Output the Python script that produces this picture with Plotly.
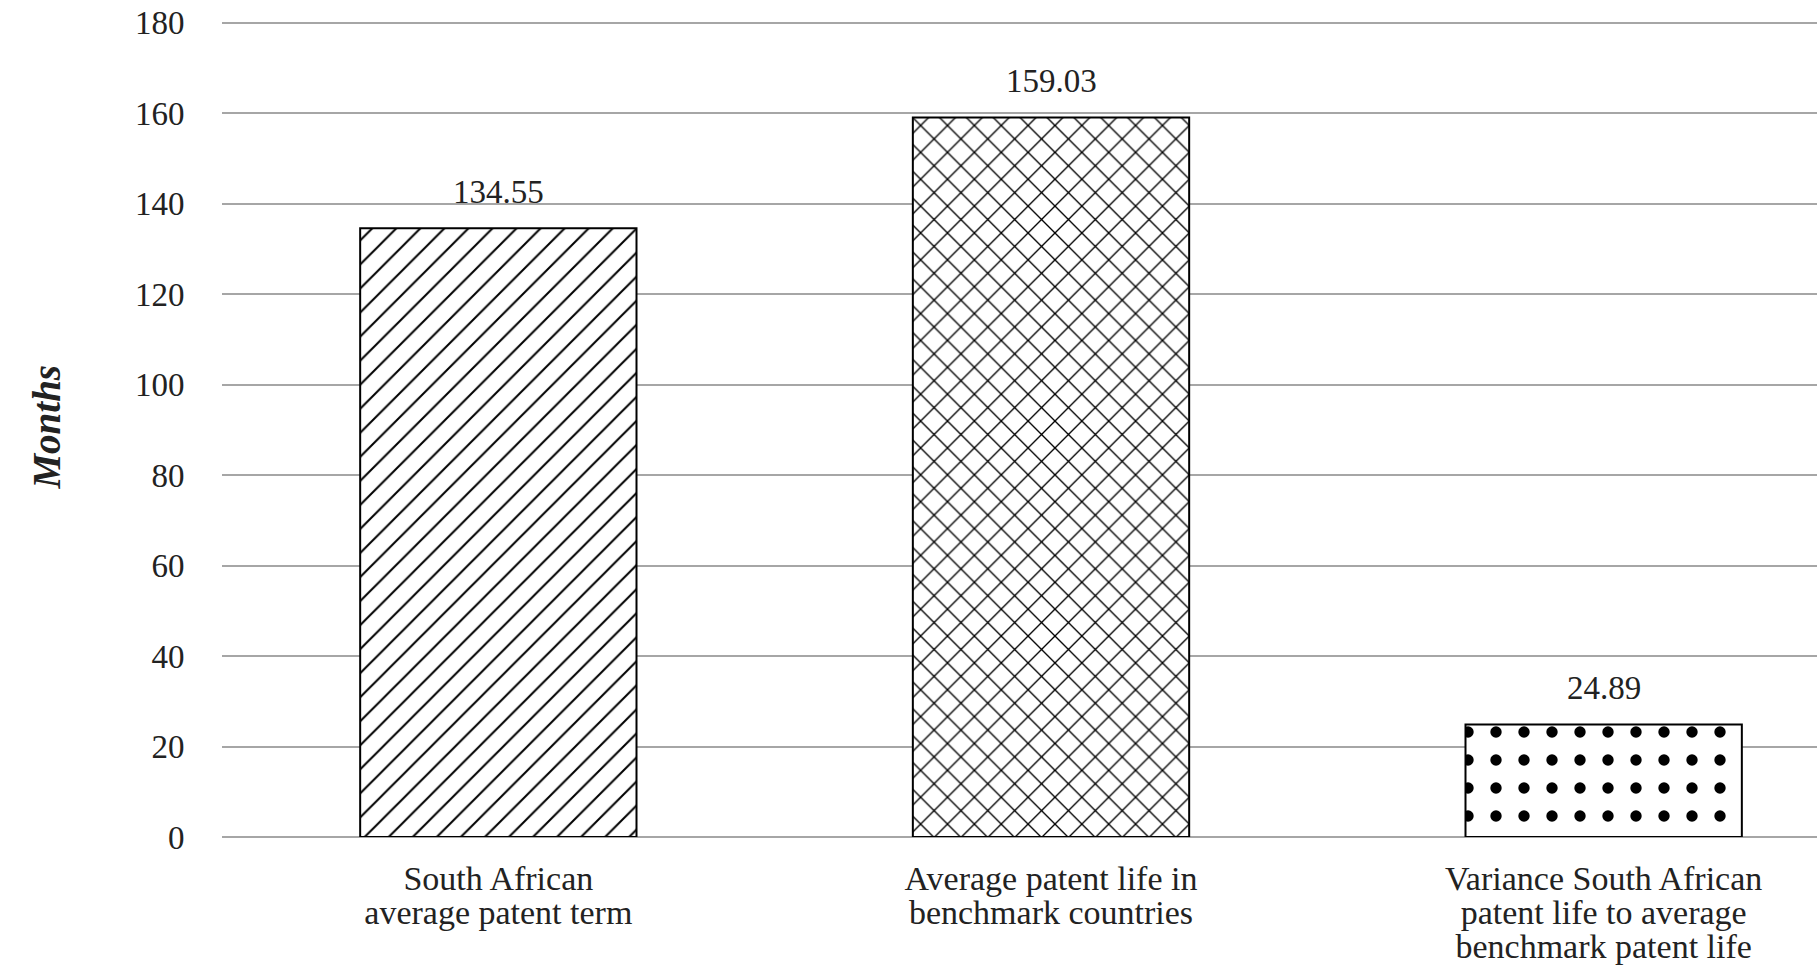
import plotly.graph_objects as go

categories = ["South African<br>average patent term",
              "Average patent life in<br>benchmark countries",
              "Variance South African<br>patent life to average<br>benchmark patent life"]
values = [134.55, 159.03, 24.89]
labels = ["134.55", "159.03", "24.89"]
patterns = ["/", "x", "."]
pattern_sizes = [17, 19, 28]
pattern_solidity = [0.12, 0.14, 0.13]

font_family = "Liberation Serif"

# wider glyphs on tighter line spacing, like the source
ticktext = ["<br>".join('<span style="font-size:34px">%s</span>' % s for s in c.split("<br>"))
            for c in categories]

fig = go.Figure()
fig.add_trace(go.Bar(
    x=categories, y=values, width=0.5,
    marker=dict(
        color="white",
        line=dict(color="black", width=2),
        pattern=dict(shape=patterns, size=pattern_sizes, solidity=pattern_solidity,
                     fgcolor="black", fgopacity=1, bgcolor="white", fillmode="overlay"),
    ),
    showlegend=False,
))

for c, v, t in zip(categories, values, labels):
    fig.add_annotation(x=c, y=v, text=t, showarrow=False, yanchor="bottom",
                       yshift=16, font=dict(family=font_family, size=33, color="#222"))

fig.add_annotation(text="<b><i>Months</i></b>", xref="paper", yref="paper",
                   x=-0.1103, y=0.5, xanchor="center", yanchor="middle", textangle=-90,
                   showarrow=False, font=dict(family=font_family, size=39, color="#222"))

fig.update_layout(
    width=1820, height=965,
    margin=dict(l=222, r=3, t=18, b=128),
    plot_bgcolor="white", paper_bgcolor="white",
    font=dict(family=font_family, size=30, color="#222"),
)
fig.update_xaxes(range=[-0.5, 2.386], showgrid=False, showline=False, automargin=False,
                 tickvals=categories, ticktext=ticktext, ticklabeloverflow="allow",
                 tickfont=dict(size=26), ticks="outside", ticklen=21, tickcolor="white")
fig.update_yaxes(range=[0, 181], tickvals=list(range(0, 181, 20)), showgrid=True,
                 gridcolor="#a6a6a6", gridwidth=2, automargin=False, ticklabeloverflow="allow",
                 zeroline=True, zerolinecolor="#a6a6a6", zerolinewidth=2,
                 tickfont=dict(size=33), ticks="outside", ticklen=30, tickcolor="white")

# drop the default page margin so the figure fills the window
fig.write_html("out.html", config={"displayModeBar": False},
               post_script="document.body.style.margin='0';")
